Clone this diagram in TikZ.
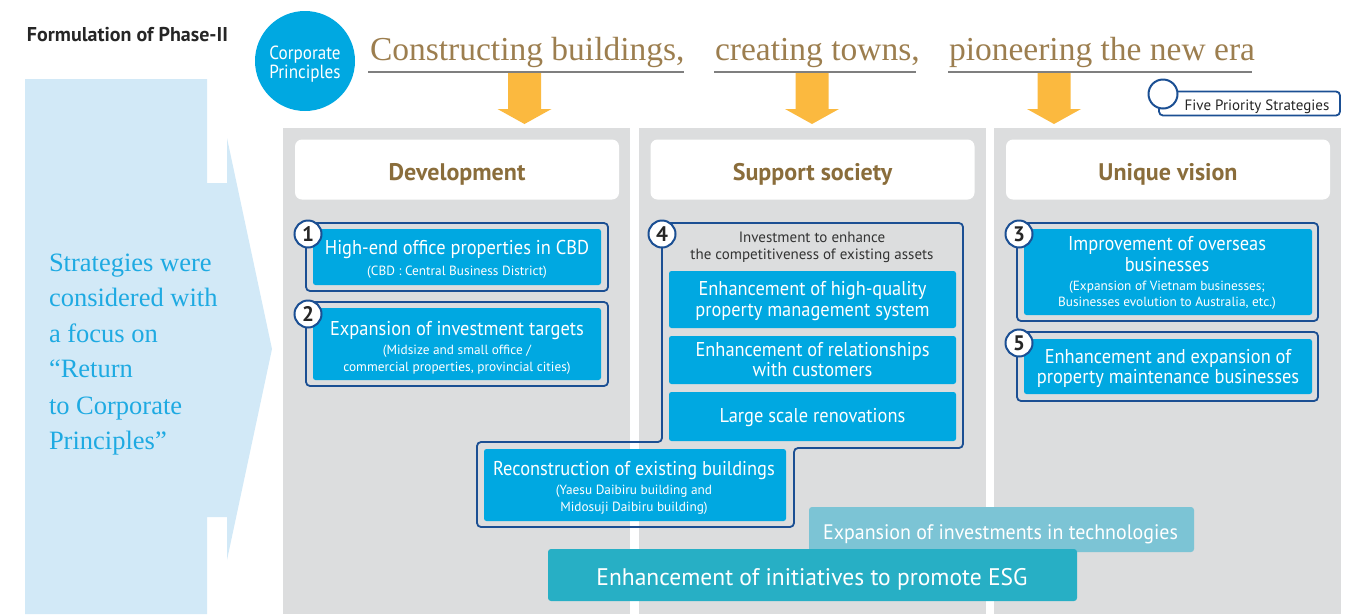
\documentclass[tikz,border=0pt]{standalone}
\usepackage{fontspec}
\setmainfont{Liberation Serif}
\newfontfamily\cnd[FakeStretch=0.92]{PT Sans}
\newfontfamily\cndc[FakeStretch=0.9]{PT Sans}
\newfontfamily\cndt[FakeStretch=0.95]{PT Sans}
\newfontfamily\cnde[FakeStretch=0.98]{PT Sans}
\newfontfamily\ptb{PT Sans}
\definecolor{cyanbox}{HTML}{00A8E1}
\definecolor{navy}{HTML}{1B4F93}
\definecolor{colgray}{HTML}{DCDDDE}
\definecolor{lblue}{HTML}{D2E9F7}
\definecolor{tagbrown}{HTML}{9C7E4F}
\definecolor{headbrown}{HTML}{8A6D3B}
\definecolor{orng}{HTML}{FBB93F}
\definecolor{techc}{HTML}{7CC4D5}
\definecolor{esgc}{HTML}{27AFC5}
\definecolor{lefttxt}{HTML}{1EAAE2}
\definecolor{ulgray}{HTML}{7F7F7F}
\begin{document}
\begin{tikzpicture}[x=1pt,y=-1pt,
  every node/.style={inner sep=0pt, outer sep=0pt},
  cbox/.style={fill=cyanbox, rounded corners=2.5pt},
  obox/.style={draw=navy, line width=1.8pt, rounded corners=4pt},
  mt/.style={anchor=base, text=white, font=\cnd\fontsize{20}{20}\selectfont},
  st/.style={anchor=base, text=white, font=\ptb\fontsize{13.3}{13.3}\selectfont},
  numc/.style={circle, draw=navy, line width=2pt, fill=white, minimum size=27pt, font=\ptb\bfseries\fontsize{21}{21}\selectfont, text=black!85},
  colbg/.style={fill=colgray, minimum width=347pt, minimum height=486pt},
  hbox/.style={fill=white, rounded corners=7pt, minimum width=324pt, minimum height=60pt},
  htxt/.style={anchor=base, text=headbrown, font=\ptb\bfseries\fontsize{24}{24}\selectfont},
  tag/.style={anchor=base west, text=tagbrown, font=\fontsize{33.5}{33.5}\selectfont},
  ltxt/.style={anchor=base west, text=lefttxt, font=\fontsize{26.5}{26.5}\selectfont},
  downarrow/.style={fill=orng}
]
\useasboundingbox (0,0) rectangle (1348,614);

% big light-blue arrow
\fill[lblue] (25,79) -- (207,79) -- (207,183) -- (227,183) -- (227,138) -- (272,349)
  -- (227,560) -- (227,517) -- (207,517) -- (207,614) -- (25,614) -- cycle;

% title
\node[anchor=base west, font=\ptb\bfseries\fontsize{20}{20}\selectfont, text=black!85] (title) at (27,41.7) {Formulation of Phase-II};

% corporate principles circle
\node[circle, fill=cyanbox, minimum size=100pt] (cp) at (305,61) {};
\node[anchor=base, text=white, font=\cndc\fontsize{19}{19}\selectfont] (cpa) at (305,59.3) {Corporate};
\node[anchor=base, text=white, font=\cndc\fontsize{19}{19}\selectfont] (cpb) at (305,78.3) {Principles};

% taglines
\node[tag] (t1) at (370,60) {Constructing buildings,};
\node[tag] (t2) at (715,60) {creating towns,};
\node[tag] (t3) at (949,60) {pioneering the new era};
\draw[ulgray, line width=1.3pt] (368,72) -- (684,72);
\draw[ulgray, line width=1.3pt] (714,72) -- (916,72);
\draw[ulgray, line width=1.3pt] (948,72) -- (1252,72);

% orange arrows
\foreach \cx in {524.5,812,1054}{
  \fill[downarrow] (\cx-16.5,73) -- (\cx+16.5,73) -- (\cx+16.5,109) -- (\cx+27,109)
    -- (\cx,124) -- (\cx-27,109) -- (\cx-16.5,109) -- cycle;
}

% five priority strategies legend
\node[draw=navy, line width=1.8pt, rounded corners=4pt, fill=white, minimum width=181pt, minimum height=24pt] (fps) at (1249.5,103.5) {};
\node[circle, draw=navy, line width=2pt, fill=white, minimum size=29pt] (fpc) at (1163,94) {};
\node[anchor=base, text=black!85, font=\ptb\fontsize{15}{15}\selectfont] (fpt) at (1257,110) {Five Priority Strategies};

% columns
\node[colbg] (c1) at (456.5,371) {};
\node[colbg] (c2) at (812.5,371) {};
\node[colbg] (c3) at (1167.5,371) {};

% column headers
\node[hbox] (h1) at (457,169.5) {};
\node[hbox] (h2) at (812.5,169.5) {};
\node[hbox] (h3) at (1168,169.5) {};
\node[htxt] (h1t) at (457,180) {Development};
\node[htxt] (h2t) at (812.5,180) {Support society};
\node[htxt] (h3t) at (1168,180) {Unique vision};

% left text
\node[ltxt] (l1) at (49,271.7) {Strategies were};
\node[ltxt] (l2) at (49,306.7) {considered with};
\node[ltxt] (l3) at (49,342.3) {a focus on};
\node[ltxt] (l4) at (49,377.7) {“Return};
\node[ltxt] (l5) at (49,414) {to Corporate};
\node[ltxt] (l6) at (49,449.3) {Principles”};

% ---- strategy 1
\node[obox, minimum width=302pt, minimum height=68pt] (o1) at (457,257) {};
\node[cbox, minimum width=288pt, minimum height=56pt] (b1) at (457,257) {};
\node[mt] (b1a) at (457,254) {High-end office properties in CBD};
\node[st] (b1b) at (457,275) {(CBD : Central Business District)};
\node[numc] (n1) at (308,234) {1};

% ---- strategy 2
\node[obox, minimum width=302pt, minimum height=84pt] (o2) at (457,344) {};
\node[cbox, minimum width=288pt, minimum height=72pt] (b2) at (457,344) {};
\node[mt] (b2a) at (457,335) {Expansion of investment targets};
\node[st] (b2b) at (457,354) {(Midsize and small office /};
\node[st] (b2c) at (457,371) {commercial properties, provincial cities)};
\node[numc] (n2) at (308,314) {2};

% ---- strategy 4 (L-shaped frame)
\draw[obox] (662,223) -- (963,223) -- (963,448) -- (794,448) -- (794,527) -- (477,527)
  -- (477,442) -- (662,442) -- cycle;
\node[anchor=base, text=black!80, font=\ptb\fontsize{15}{15}\selectfont] (b4h1) at (812,242.7) {Investment to enhance};
\node[anchor=base, text=black!80, font=\ptb\fontsize{15}{15}\selectfont] (b4h2) at (812,259.3) {the competitiveness of existing assets};
\node[cbox, minimum width=287pt, minimum height=57pt] (b4a) at (812.5,299.5) {};
\node[mt] (b4a1) at (812.5,295.7) {Enhancement of high-quality};
\node[mt] (b4a2) at (812.5,316) {property management system};
\node[cbox, minimum width=287pt, minimum height=48pt] (b4b) at (812.5,360) {};
\node[mt] (b4b1) at (812.5,356) {Enhancement of relationships};
\node[mt] (b4b2) at (812.5,376.7) {with customers};
\node[cbox, minimum width=287pt, minimum height=49pt] (b4c) at (812.5,416.5) {};
\node[mt] (b4c1) at (812.5,422) {Large scale renovations};
\node[cbox, minimum width=302pt, minimum height=72pt] (b4d) at (635,485) {};
\node[mt] (b4d1) at (634,475) {Reconstruction of existing buildings};
\node[st] (b4d2) at (634,494.3) {(Yaesu Daibiru building and};
\node[st] (b4d3) at (634,511) {Midosuji Daibiru building)};
\node[numc] (n4) at (662,234) {4};

% ---- strategy 3
\node[obox, minimum width=301pt, minimum height=98pt] (o3) at (1167.5,272) {};
\node[cbox, minimum width=288pt, minimum height=86pt] (b3) at (1168,272) {};
\node[mt] (b3a) at (1167,250) {Improvement of overseas};
\node[mt] (b3b) at (1167,271.7) {businesses};
\node[st] (b3c) at (1167,290.7) {(Expansion of Vietnam businesses;};
\node[st] (b3d) at (1167,306) {Businesses evolution to Australia, etc.)};
\node[numc] (n3) at (1019,234) {3};

% ---- strategy 5
\node[obox, minimum width=301pt, minimum height=69pt] (o5) at (1167.5,366.5) {};
\node[cbox, minimum width=288pt, minimum height=55pt] (b5) at (1168,366.5) {};
\node[mt] (b5a) at (1168,363) {Enhancement and expansion of};
\node[mt] (b5b) at (1168,383) {property maintenance businesses};
\node[numc] (n5) at (1019,343) {5};

% ---- bottom bars
\node[fill=techc, rounded corners=3pt, minimum width=385pt, minimum height=45pt] (tech) at (1001.5,529.5) {};
\node[anchor=base, text=white, font=\cndt\fontsize{21}{21}\selectfont] (techt) at (1000.5,539.3) {Expansion of investments in technologies};
\node[fill=esgc, rounded corners=3pt, minimum width=529pt, minimum height=52pt] (esg) at (812.5,575) {};
\node[anchor=base, text=white, font=\cnde\fontsize{24}{24}\selectfont] (esgt) at (812,585.7) {Enhancement of initiatives to promote ESG};
\end{tikzpicture}
\end{document}
